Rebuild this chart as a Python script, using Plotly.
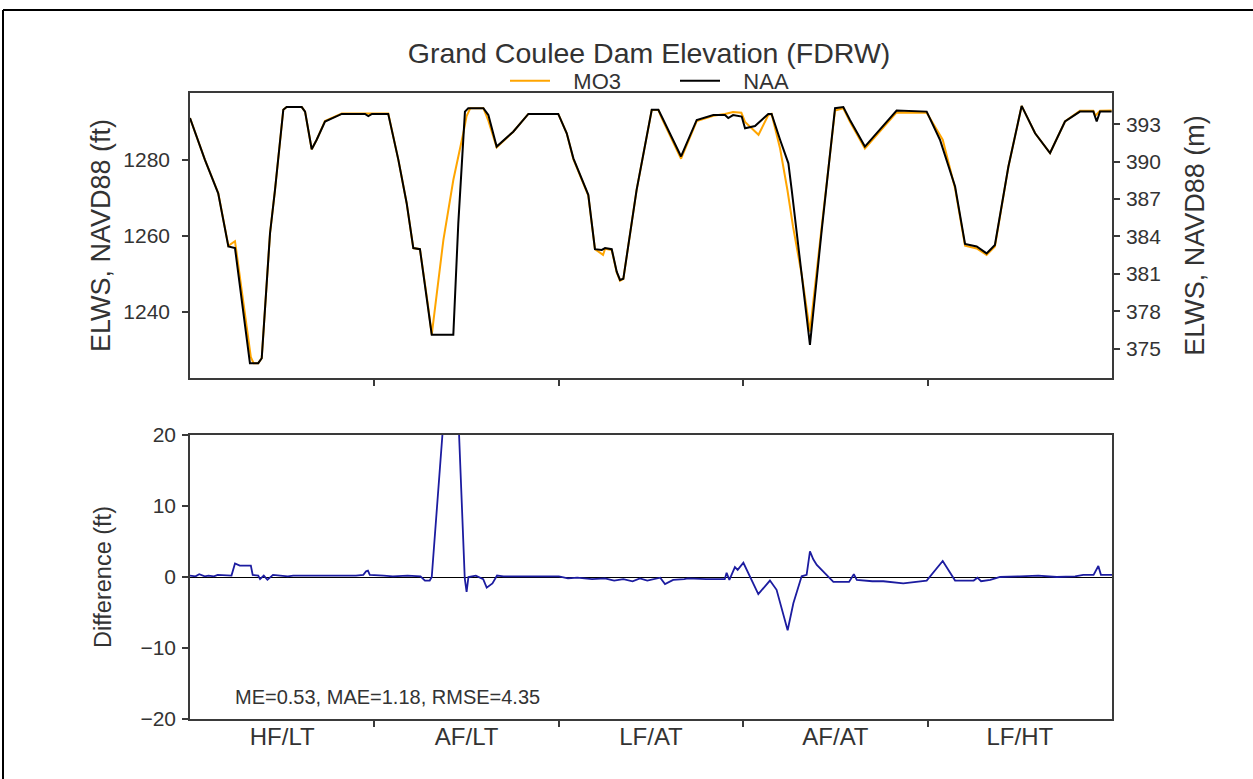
import plotly.graph_objects as go

# ---------------- data (x in water-year units, 0..5) ----------------
period_labels = ["HF/LT", "AF/LT", "LF/AT", "AF/AT", "LF/HT"]
period_centers = [0.5, 1.5, 2.5, 3.5, 4.5]
period_bounds = [1, 2, 3, 4]

naa_x = [0.000, 0.081, 0.153, 0.208, 0.244, 0.325, 0.370, 0.389, 0.434, 0.461,
         0.506, 0.524, 0.606, 0.624, 0.660, 0.687, 0.732, 0.823, 0.949, 0.967,
         0.987, 1.075, 1.130, 1.175, 1.211, 1.247, 1.311, 1.428, 1.455, 1.491,
         1.509, 1.591, 1.618, 1.663, 1.753, 1.835, 1.997, 2.043, 2.079, 2.160,
         2.196, 2.233, 2.251, 2.287, 2.314, 2.332, 2.350, 2.422, 2.504, 2.540,
         2.558, 2.663, 2.748, 2.838, 2.901, 2.919, 2.945, 2.992, 3.010, 3.064,
         3.136, 3.154, 3.200, 3.245, 3.263, 3.362, 3.426, 3.498, 3.543, 3.579,
         3.660, 3.814, 3.832, 3.995, 4.067, 4.149, 4.203, 4.266, 4.320, 4.365,
         4.438, 4.510, 4.583, 4.664, 4.745, 4.826, 4.899, 4.917, 4.935, 4.998]
naa_y = [1291.0, 1280.0, 1271.2, 1257.2, 1256.8, 1226.5, 1226.5, 1227.8, 1260.7, 1272.1,
         1293.2, 1293.9, 1293.9, 1292.7, 1282.8, 1285.3, 1290.1, 1292.1, 1292.1, 1291.5,
         1292.1, 1292.1, 1280.0, 1268.6, 1256.8, 1256.5, 1234.0, 1234.0, 1263.3, 1292.7,
         1293.6, 1293.6, 1291.8, 1283.5, 1287.4, 1292.1, 1292.1, 1287.0, 1280.4, 1270.8,
         1256.5, 1256.3, 1256.8, 1256.5, 1250.6, 1248.4, 1248.7, 1272.1, 1293.2, 1293.2,
         1291.4, 1280.9, 1290.5, 1291.8, 1291.8, 1291.0, 1291.8, 1291.4, 1288.3, 1288.9,
         1292.1, 1292.1, 1285.3, 1279.1, 1272.1, 1231.3, 1261.6, 1293.6, 1293.9, 1290.5,
         1283.5, 1291.8, 1293.0, 1292.7, 1285.3, 1273.0, 1257.9, 1257.2, 1255.4, 1257.6,
         1278.2, 1294.2, 1287.0, 1281.8, 1290.1, 1292.7, 1292.7, 1290.1, 1292.7, 1292.7]

mo3_x = [0.000, 0.081, 0.153, 0.208, 0.244, 0.330, 0.345, 0.370, 0.389, 0.434,
         0.461, 0.506, 0.524, 0.606, 0.624, 0.660, 0.687, 0.732, 0.823, 0.949,
         0.987, 1.075, 1.130, 1.175, 1.211, 1.247, 1.290, 1.311, 1.374, 1.428,
         1.482, 1.500, 1.520, 1.591, 1.618, 1.663, 1.753, 1.835, 1.997, 2.043,
         2.079, 2.160, 2.196, 2.240, 2.251, 2.287, 2.314, 2.332, 2.350, 2.422,
         2.504, 2.540, 2.558, 2.663, 2.748, 2.838, 2.901, 2.945, 2.990, 3.010,
         3.083, 3.136, 3.154, 3.200, 3.240, 3.270, 3.318, 3.362, 3.426, 3.498,
         3.543, 3.579, 3.660, 3.814, 3.832, 3.995, 4.082, 4.149, 4.203, 4.266,
         4.320, 4.365, 4.438, 4.510, 4.583, 4.664, 4.745, 4.826, 4.899, 4.910,
         4.935, 4.998]
mo3_y = [1291.0, 1280.0, 1271.3, 1257.4, 1258.6, 1228.1, 1226.5, 1226.5, 1227.8, 1260.7,
         1272.1, 1293.2, 1293.9, 1293.9, 1292.7, 1282.8, 1285.3, 1290.2, 1292.2, 1292.2,
         1292.2, 1292.2, 1280.0, 1268.6, 1256.8, 1256.5, 1242.0, 1234.0, 1258.9, 1274.7,
         1287.0, 1291.5, 1293.6, 1293.6, 1290.3, 1283.3, 1287.4, 1292.1, 1292.1, 1287.0,
         1280.2, 1270.6, 1256.5, 1255.0, 1256.6, 1256.3, 1250.4, 1248.2, 1248.7, 1272.1,
         1293.1, 1293.1, 1291.0, 1280.3, 1290.2, 1291.6, 1292.1, 1292.6, 1292.4, 1290.0,
         1286.6, 1291.8, 1292.1, 1283.0, 1272.0, 1262.5, 1249.6, 1234.8, 1262.5, 1293.0,
         1293.6, 1290.0, 1283.0, 1291.3, 1292.5, 1292.4, 1285.3, 1272.5, 1257.4, 1256.7,
         1255.0, 1257.2, 1278.2, 1294.2, 1287.0, 1281.8, 1290.1, 1292.9, 1292.9, 1291.6,
         1292.9, 1293.0]

diff_x = [0.000, 0.030, 0.050, 0.080, 0.100, 0.130, 0.150, 0.190, 0.225, 0.244,
          0.270, 0.330, 0.340, 0.370, 0.380, 0.400, 0.420, 0.450, 0.500, 0.530,
          0.560, 0.600, 0.700, 0.800, 0.900, 0.940, 0.955, 0.965, 0.975, 1.050,
          1.100, 1.180, 1.250, 1.274, 1.300, 1.311, 1.428, 1.490, 1.500, 1.510,
          1.550, 1.590, 1.609, 1.640, 1.665, 1.700, 1.800, 1.900, 2.000, 2.050,
          2.100, 2.180, 2.250, 2.300, 2.350, 2.400, 2.440, 2.480, 2.520, 2.550,
          2.576, 2.620, 2.680, 2.700, 2.800, 2.900, 2.910, 2.925, 2.955, 2.970,
          3.001, 3.037, 3.082, 3.145, 3.181, 3.241, 3.272, 3.317, 3.344, 3.362,
          3.380, 3.399, 3.489, 3.574, 3.600, 3.616, 3.700, 3.760, 3.868, 3.995,
          4.082, 4.149, 4.250, 4.270, 4.290, 4.340, 4.393, 4.500, 4.600, 4.700,
          4.800, 4.844, 4.900, 4.926, 4.940, 5.000]
diff_y = [0.2, 0.1, 0.4, 0.1, 0.2, 0.1, 0.3, 0.2, 0.2, 1.9,
          1.6, 1.6, 0.3, 0.2, -0.3, 0.2, -0.4, 0.3, 0.2, 0.1,
          0.2, 0.2, 0.1, 0.2, 0.2, 0.3, 0.8, 0.9, 0.3, 0.2,
          0.1, 0.2, 0.1, -0.5, -0.5, 0.0, 40.5, -0.2, -2.1, 0.0,
          0.2, -0.3, -1.5, -0.9, 0.2, 0.1, 0.1, 0.0, 0.1, -0.2,
          -0.1, -0.3, -0.2, -0.5, -0.3, -0.6, -0.2, -0.5, -0.3, -0.1,
          -1.0, -0.4, -0.3, -0.2, -0.3, -0.3, 0.6, -0.4, 1.4, 1.0,
          2.0, 0.0, -2.4, -0.5, -1.8, -7.5, -3.7, 0.1, 0.3, 3.6,
          2.5, 1.7, -0.7, -0.7, 0.4, -0.4, -0.6, -0.6, -0.9, -0.5,
          2.25, -0.5, -0.5, -0.1, -0.6, -0.4, 0.0, 0.1, 0.2, 0.0,
          0.1, 0.3, 0.3, 1.55, 0.3, 0.3]

stats_text = "ME=0.53, MAE=1.18, RMSE=4.35"
title_text = "Grand Coulee Dam Elevation (FDRW)"
series_names = ["MO3", "NAA"]
FT_TO_M = 0.3048
ft_range = [1222.6, 1297.6]
ft_ticks = [1240, 1260, 1280]
m_ticks = [375, 378, 381, 384, 387, 390, 393]
diff_ticks = [-20, -10, 0, 10, 20]

# ---------------- figure ----------------
FONT = "Liberation Sans, Arial, sans-serif"
TXT = "#333333"
AX = "#3a3a3a"
W, H = 1253, 779
ML, MR, MT, MB = 190, 141, 93, 60
PW, PH = W - ML - MR, H - MT - MB
NBSP = "\u00a0"


def px_x(p):
    return (p - ML) / PW


def px_y(p):
    return (H - MB - p) / PH


fig = go.Figure()
fig.add_trace(go.Scatter(x=mo3_x, y=mo3_y, mode="lines", name=NBSP * 3 + series_names[0],
                         line=dict(color="#FFA500", width=2), xaxis="x", yaxis="y"))
fig.add_trace(go.Scatter(x=naa_x, y=naa_y, mode="lines", name=NBSP * 3 + series_names[1],
                         line=dict(color="#000000", width=2), xaxis="x", yaxis="y"))
fig.add_trace(go.Scatter(x=naa_x, y=[v * FT_TO_M for v in naa_y], mode="lines",
                         showlegend=False, opacity=0, hoverinfo="skip",
                         line=dict(color="#000000", width=0.1), xaxis="x", yaxis="y3"))
fig.add_trace(go.Scatter(x=diff_x, y=diff_y, mode="lines", showlegend=False,
                         line=dict(color="#1c1ca0", width=1.8), xaxis="x2", yaxis="y2"))

axis_common = dict(showline=True, linecolor=AX, linewidth=1.5, showgrid=False,
                   zeroline=False, ticks="outside", ticklen=6, tickwidth=1.5,
                   tickcolor=AX, tickfont=dict(family=FONT, size=21, color=TXT))

top_y0 = px_y(378)
bot_y1 = px_y(435)
ELWS_FONT = dict(family=FONT, size=27, color=TXT)

fig.update_layout(
    width=W, height=H, autosize=False,
    margin=dict(l=ML, r=MR, t=MT, b=MB),
    paper_bgcolor="white", plot_bgcolor="white",
    font=dict(family=FONT, color=TXT),
    title=dict(text=title_text, x=649 / W, xanchor="center",
               y=1 - 53 / H, yanchor="middle",
               font=dict(family=FONT, size=28.5, color=TXT)),
    legend=dict(orientation="h", x=px_x(505), xanchor="left", y=px_y(81), yanchor="middle",
                font=dict(family=FONT, size=22, color=TXT), bgcolor="rgba(0,0,0,0)",
                entrywidth=115, itemwidth=40),
    xaxis=dict(axis_common, domain=[0, 1], anchor="y", range=[0, 5], mirror=True,
               tickvals=period_bounds, showticklabels=False),
    yaxis=dict(axis_common, domain=[top_y0, 1], anchor="x", range=ft_range,
               tickvals=ft_ticks, mirror=True, ticklabelstandoff=8,
               title=dict(text="ELWS, NAVD88 (ft)", standoff=5, font=ELWS_FONT)),
    yaxis3=dict(axis_common, overlaying="y", side="right", anchor="x",
                range=[ft_range[0] * FT_TO_M, ft_range[1] * FT_TO_M], tickvals=m_ticks,
                ticklabelstandoff=2,
                title=dict(text="ELWS, NAVD88 (m)", standoff=25, font=ELWS_FONT)),
    xaxis2=dict(axis_common, domain=[0, 1], anchor="y2", range=[0, 5], mirror=True,
                tickvals=period_centers, ticktext=period_labels, ticks="",
                ticklabelstandoff=-5,
                tickfont=dict(family=FONT, size=24, color=TXT),
                minor=dict(tickvals=period_bounds, ticks="outside", ticklen=6,
                           tickwidth=1.5, tickcolor=AX)),
    yaxis2=dict(axis_common, domain=[0, bot_y1], anchor="x2", range=[-20, 20],
                tickvals=diff_ticks, mirror=True, ticklabelstandoff=2,
                zeroline=True, zerolinecolor="#000000", zerolinewidth=1,
                title=dict(text="Difference (ft)", standoff=22,
                           font=dict(family=FONT, size=23.5, color=TXT))),
    annotations=[dict(text=stats_text, xref="paper", yref="paper",
                      x=px_x(233), y=px_y(697), xanchor="left", yanchor="middle",
                      showarrow=False, font=dict(family=FONT, size=20, color=TXT))],
    shapes=[
        dict(type="line", xref="paper", yref="paper", x0=px_x(3), x1=px_x(1253),
             y0=px_y(10), y1=px_y(10), line=dict(color="#000000", width=2)),
        dict(type="line", xref="paper", yref="paper", x0=px_x(3), x1=px_x(3),
             y0=px_y(10), y1=px_y(779), line=dict(color="#000000", width=2)),
    ],
)

fig.write_html("out.html", config={"displayModeBar": False},
               post_script="document.body.style.margin='0px';document.body.style.overflow='hidden';")
